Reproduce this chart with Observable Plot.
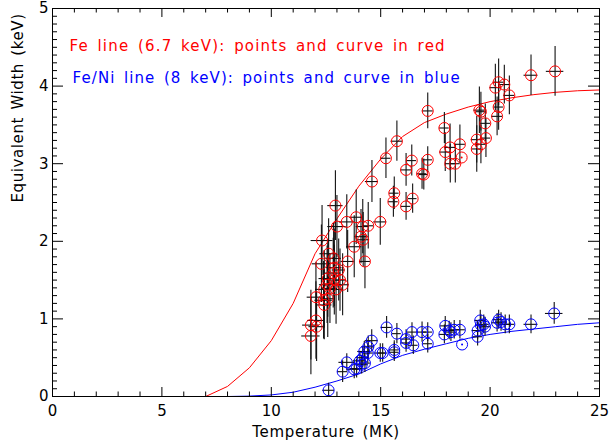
<!DOCTYPE html>
<html><head><meta charset="utf-8">
<script src="https://cdn.jsdelivr.net/npm/d3@7"></script>
<script src="https://cdn.jsdelivr.net/npm/@observablehq/plot@0.6"></script>
<style>html,body{margin:0;padding:0;background:#fff}</style>
</head><body><div id="chart"></div>
<script>
// Fe line (6.7 keV) points: temperature (MK), equivalent width (keV), errors
const feT    = [12.93,12.32,13.00,13.45,13.88,14.18,14.43,14.98,14.10,13.79,12.62,12.29,12.85,12.88,13.49,14.28,13.08,12.83,12.58,12.88,13.14,13.26,12.55,12.68,12.42,12.96,12.58,12.39,12.04,12.42,12.04,11.81,12.07,11.81,17.15,17.91,15.74,15.24,14.60,16.16,16.42,17.15,16.89,16.97,15.62,15.58,16.16,16.46,18.17,18.62,17.95,18.18,18.41,18.70,21.87,22.97,20.39,20.24,20.65,20.88,20.39,20.32,19.51,19.58,19.78,19.81,19.39,19.58,19.39,14.20];
const feW    = [2.46,2.01,2.19,2.25,2.31,2.19,2.20,2.25,2.06,1.93,1.84,1.71,1.78,1.66,1.74,1.74,1.63,1.59,1.52,1.50,1.50,1.44,1.44,1.39,1.38,1.38,1.26,1.24,1.28,1.18,0.98,0.92,0.90,0.78,3.68,3.46,3.29,3.07,2.77,2.92,3.04,3.05,2.87,2.86,2.62,2.51,2.45,2.55,3.21,3.25,3.15,3.00,3.00,3.08,4.14,4.19,4.05,3.98,4.02,3.88,3.73,3.61,3.69,3.67,3.52,3.33,3.31,3.25,3.19,2.02];
const feTerr = [0.35,0.50,0.42,0.34,0.30,0.30,0.25,0.30,0.28,0.35,0.40,0.42,0.35,0.35,0.30,0.25,0.30,0.35,0.40,0.30,0.30,0.30,0.35,0.35,0.40,0.30,0.35,0.40,0.40,0.35,0.38,0.38,0.35,0.42,0.25,0.22,0.27,0.23,0.30,0.25,0.22,0.22,0.22,0.20,0.22,0.22,0.22,0.20,0.25,0.25,0.25,0.22,0.22,null,0.32,0.40,0.25,0.25,0.25,0.25,0.22,0.25,0.25,0.22,0.25,0.22,0.25,0.22,0.22,0.28];
const feWerr = [0.45,0.45,0.40,0.35,0.35,0.35,0.30,0.30,0.35,0.40,0.45,0.50,0.45,0.50,0.40,0.35,0.40,0.45,0.50,0.45,0.40,0.40,0.50,0.45,0.50,0.45,0.50,0.50,0.45,0.45,0.50,0.45,0.45,0.50,0.23,0.20,0.26,0.26,0.27,0.21,0.20,0.17,0.20,0.20,0.21,0.20,0.18,0.19,0.30,0.25,0.25,0.25,0.25,null,0.26,0.32,0.30,0.30,0.25,0.25,0.30,0.25,0.30,0.25,0.25,0.25,0.30,0.25,0.30,0.35];

// Fe/Ni line (8 keV) points
const niT    = [12.62,13.26,13.45,13.79,13.90,14.13,14.28,14.18,14.25,14.43,14.59,14.98,15.27,14.05,14.41,15.74,16.43,16.89,17.15,16.16,16.16,16.49,15.62,15.62,15.09,17.15,17.95,17.91,18.21,18.36,18.62,18.72,19.43,19.55,19.58,19.77,19.43,22.93,21.87,20.88,20.39,20.50,20.32,20.69,19.71,18.13];
const niW    = [0.08,0.32,0.44,0.35,0.36,0.41,0.43,0.50,0.58,0.64,0.72,0.56,0.89,0.46,0.56,0.81,0.83,0.83,0.83,0.74,0.69,0.66,0.60,0.57,0.56,0.68,0.91,0.80,0.83,0.86,0.86,0.67,0.77,0.98,0.92,0.90,0.85,1.07,0.93,0.93,0.99,0.96,0.95,0.93,0.93,0.85];
const niTerr = [0.27,0.23,0.36,0.30,0.30,0.30,0.25,0.30,0.30,0.30,0.30,0.25,0.25,0.30,0.25,0.20,0.22,0.22,0.22,0.22,0.22,0.22,0.22,0.22,0.22,0.22,0.22,0.22,0.25,0.25,0.25,null,0.22,0.25,0.25,0.25,0.25,0.40,0.32,0.25,0.25,0.25,0.25,0.25,0.25,0.25];
const niWerr = [0.09,0.14,0.11,0.12,0.12,0.12,0.12,0.13,0.13,0.14,0.14,0.12,0.14,0.12,0.13,0.13,0.12,0.13,0.12,0.12,0.12,0.12,0.12,0.12,0.12,0.12,0.12,0.12,0.12,0.12,0.12,null,0.12,0.13,0.13,0.12,0.12,0.14,0.12,0.12,0.12,0.12,0.12,0.12,0.12,0.12];

// Model curves, sampled at integer temperatures
const curveT  = [1,2,3,4,5,6,7,8,9,10,11,12,13,14,15,16,17,18,19,20,21,22,23,24,25];
const curveFe = [0,0,0,0,0,0,0,0.13,0.37,0.72,1.20,1.84,2.29,2.71,3.06,3.35,3.53,3.64,3.73,3.80,3.85,3.89,3.92,3.94,3.95];
const curveNi = [0,0,0,0,0,0,0,0,0.005,0.02,0.055,0.12,0.20,0.29,0.42,0.53,0.61,0.68,0.75,0.80,0.84,0.87,0.90,0.93,0.95];

// Axis ticks and texts
const xMajor = [0,5,10,15,20,25];
const xMinor = d3.range(0,26).filter(v => v % 5 !== 0);
const yMajor = [0,1,2,3,4,5];
const yMinor = d3.range(0,51).filter(i => i % 10 !== 0).map(i => i/10);
const xTitle = "Temperature (MK)";
const yTitle = "Equivalent Width (keV)";
const legendFe = "Fe line (6.7 keV): points and curve in red";
const legendNi = "Fe/Ni line (8 keV): points and curve in blue";

const fe = feT.map((t,i) => ({t, w: feW[i], et: feTerr[i], ew: feWerr[i]}));
const ni = niT.map((t,i) => ({t, w: niW[i], et: niTerr[i], ew: niWerr[i]}));
const feC = curveT.map((t,i) => ({t, w: curveFe[i]}));
const niC = curveT.map((t,i) => ({t, w: curveNi[i]}));

const W = 614, H = 446, mL = 52, mR = 15, mT = 8, mB = 50;
const fw = W - mL - mR, fh = H - mT - mB;

function errMarks(data) {
  const d = data.filter(p => p.et != null);
  return [
    Plot.ruleX(d, {x: "t", y1: p => p.w - p.ew, y2: p => p.w + p.ew, stroke: "#111", strokeWidth: 1.1}),
    Plot.ruleY(d, {y: "w", x1: p => p.t - p.et, x2: p => p.t + p.et, stroke: "#111", strokeWidth: 1.1})
  ];
}

const chart = Plot.plot({
  width: W, height: H,
  marginLeft: mL, marginRight: mR, marginTop: mT, marginBottom: mB,
  x: {domain: [0, 25]},
  y: {domain: [0, 5]},
  style: {fontFamily: "DejaVu Sans, sans-serif", fontSize: "15px", background: "#fff", color: "#000"},
  marks: [
    Plot.line(feC, {x: "t", y: "w", stroke: "#ff0000", strokeWidth: 1}),
    Plot.line(niC, {x: "t", y: "w", stroke: "#0000ff", strokeWidth: 1}),
    ...errMarks(fe),
    ...errMarks(ni),
    Plot.dot(fe, {x: "t", y: "w", r: 5.5, stroke: "#ff0000", fill: "none", strokeWidth: 1}),
    Plot.dot(ni, {x: "t", y: "w", r: 5.5, stroke: "#0000ff", fill: "none", strokeWidth: 1}),
    Plot.dot(fe.filter(p => p.et == null), {x: "t", y: "w", r: 1, fill: "#ff0000"}),
    Plot.dot(ni.filter(p => p.et == null), {x: "t", y: "w", r: 1, fill: "#0000ff"}),
    Plot.frame({stroke: "#000", strokeWidth: 1}),
    // inward ticks on all four sides
    Plot.tickX(xMajor, {x: d => d, insetTop: fh - 9, stroke: "#000"}),
    Plot.tickX(xMinor, {x: d => d, insetTop: fh - 4.5, stroke: "#000"}),
    Plot.tickX(xMajor, {x: d => d, insetBottom: fh - 9, stroke: "#000"}),
    Plot.tickX(xMinor, {x: d => d, insetBottom: fh - 4.5, stroke: "#000"}),
    Plot.tickY(yMajor, {y: d => d, insetRight: fw - 11, stroke: "#000"}),
    Plot.tickY(yMinor, {y: d => d, insetRight: fw - 5, stroke: "#000"}),
    Plot.tickY(yMajor, {y: d => d, insetLeft: fw - 11, stroke: "#000"}),
    Plot.tickY(yMinor, {y: d => d, insetLeft: fw - 5, stroke: "#000"}),
    Plot.axisX({ticks: xMajor, tickFormat: d => String(d), tickSize: 0, tickPadding: 9, label: null, fontSize: 15}),
    Plot.axisY({ticks: yMajor, tickFormat: d => String(d), tickSize: 0, tickPadding: 4, label: null, fontSize: 15}),
    Plot.text([xTitle], {frameAnchor: "bottom", dy: 40, text: d => d, fontSize: 15}),
    Plot.text([yTitle], {frameAnchor: "left", dx: -34, rotate: -90, text: d => d, fontSize: 15}),
    Plot.text([legendFe], {frameAnchor: "top-left", dx: 17, dy: 32, text: d => d, textAnchor: "start", fill: "#ff0000", fontSize: 15}),
    Plot.text([legendNi], {frameAnchor: "top-left", dx: 20, dy: 64, text: d => d, textAnchor: "start", fill: "#0000ff", fontSize: 15})
  ]
});
// wider letter spacing, as in the reference's vector font
const spacing = new Map([
  [legendFe, ["1.2px", "2.6px"]], [legendNi, ["1.1px", "2.6px"]],
  [xTitle, ["0.7px", "2px"]], [yTitle, ["0.6px", "2px"]]
]);
d3.select(chart).selectAll("text").each(function() {
  const s = spacing.get(this.textContent);
  if (s) { this.style.letterSpacing = s[0]; this.style.wordSpacing = s[1]; }
});
document.getElementById("chart").appendChild(chart);
</script>
</body></html>
